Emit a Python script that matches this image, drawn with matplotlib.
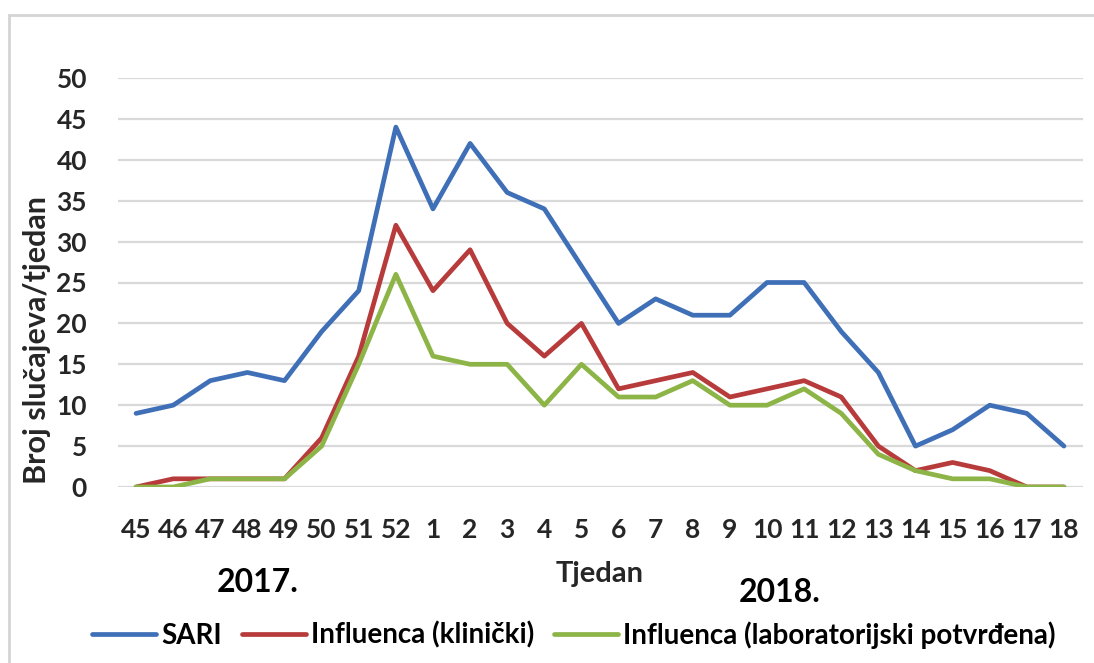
import numpy as np
import matplotlib
matplotlib.use("Agg")
import matplotlib.pyplot as plt
from matplotlib.patches import Rectangle

weeks = ["45", "46", "47", "48", "49", "50", "51", "52", "1", "2", "3", "4", "5",
         "6", "7", "8", "9", "10", "11", "12", "13", "14", "15", "16", "17", "18"]
sari = [9, 10, 13, 14, 13, 19, 24, 44, 34, 42, 36, 34, 27,
        20, 23, 21, 21, 25, 25, 19, 14, 5, 7, 10, 9, 5]
klinicki = [0, 1, 1, 1, 1, 6, 16, 32, 24, 29, 20, 16, 20,
            12, 13, 14, 11, 12, 13, 11, 5, 2, 3, 2, 0, 0]
laboratorijski = [0, 0, 1, 1, 1, 5, 15, 26, 16, 15, 15, 10, 15,
                  11, 11, 13, 10, 10, 12, 9, 4, 2, 1, 1, 0, 0]

plt.rcParams['font.family'] = ['Lato', 'DejaVu Sans']

W, H = 1094, 663
fig = plt.figure(figsize=(W / 100, H / 100), dpi=100)
ax = fig.add_axes([117.5 / W, 1 - 487 / H, (1082.5 - 117.5) / W, (487 - 78) / H])

x = np.arange(len(weeks))
ax.plot(x, sari, color='#3E6FB7', linewidth=3.4, label='SARI', solid_capstyle='round')
ax.plot(x, klinicki, color='#B83B3B', linewidth=3.4, label='Influenca (klinički)',
        solid_capstyle='round')
ax.plot(x, laboratorijski, color='#8DB447', linewidth=3.4,
        label='Influenca (laboratorijski potvrđena)', solid_capstyle='round')

ax.set_xlim(-0.5, len(weeks) - 0.5)
ax.set_ylim(0, 50)
ax.set_yticks(range(0, 51, 5))
ax.set_xticks(x)
ax.set_xticklabels(weeks)
ax.grid(axis='y', color='#D9D9D9', linewidth=1.6)
ax.set_axisbelow(True)
for s in ax.spines.values():
    s.set_visible(False)
ax.tick_params(length=0, labelsize=19, colors='#262626')
ax.tick_params(axis='y', pad=22)
ax.tick_params(axis='x', pad=22)
for lbl in ax.get_xticklabels() + ax.get_yticklabels():
    lbl.set_fontweight('bold')

fig.text(37 / W, 1 - 340 / H, 'Broj slučajeva/tjedan', fontsize=22, fontweight='bold',
         color='#262626', rotation=90, ha='center', va='center')
fig.text(600 / W, 1 - 574 / H, 'Tjedan', fontsize=21, fontweight='bold', color='#262626',
         ha='center', va='center')
fig.text(258 / W, 1 - 583 / H, '2017.', fontsize=23, fontweight='bold', color='black',
         ha='center', va='center')
fig.text(780 / W, 1 - 593 / H, '2018.', fontsize=23, fontweight='bold', color='black',
         ha='center', va='center')

fig.legend(loc='center', bbox_to_anchor=(574 / W, 1 - 635 / H), ncol=3, frameon=False,
           prop={'size': 20, 'weight': 'bold'}, handlelength=2.3, handletextpad=0.2,
           columnspacing=0.7)

fig.patches.append(Rectangle((9 / W, -0.1), 1.2, 1 - 15 / H + 0.1, transform=fig.transFigure,
                             fill=False, edgecolor='#D4D4D4', linewidth=2))

fig.savefig('out.png', dpi=100)
